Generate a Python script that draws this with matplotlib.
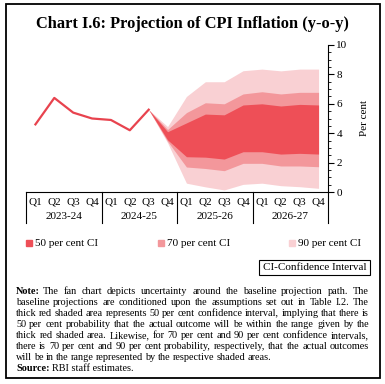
import numpy as np
import matplotlib.pyplot as plt
from matplotlib.patches import Rectangle

quarters = ['Q1', 'Q2', 'Q3', 'Q4'] * 4
years = ['2023-24', '2024-25', '2025-26', '2026-27']

# actual inflation, Q1 2023-24 .. Q3 2024-25
actual = [4.6, 6.4, 5.4, 5.0, 4.9, 4.2, 5.6]

# fan bands, Q3 2024-25 .. Q4 2026-27
lo90 = [5.6, 3.35, 0.6, 0.35, 0.14, 0.52, 0.6, 0.43, 0.36, 0.25]
lo70 = [5.6, 3.45, 1.7, 1.6, 1.45, 1.95, 1.95, 1.77, 1.77, 1.72]
lo50 = [5.6, 3.55, 2.4, 2.37, 2.24, 2.74, 2.74, 2.58, 2.63, 2.58]
hi50 = [5.6, 4.1, 4.7, 5.3, 5.25, 5.92, 6.0, 5.85, 5.96, 5.92]
hi70 = [5.6, 4.25, 5.4, 6.07, 6.0, 6.67, 6.82, 6.67, 6.78, 6.78]
hi90 = [5.6, 4.45, 6.5, 7.5, 7.5, 8.25, 8.36, 8.24, 8.36, 8.36]

note_lines = [
    "The fan chart depicts uncertainty around the baseline projection path. The",
    "baseline projections are conditioned upon the assumptions set out in Table I.2. The",
    "thick red shaded area represents 50 per cent confidence interval, implying that there is",
    "50 per cent probability that the actual outcome will be within the range given by the",
    "thick red shaded area. Likewise, for 70 per cent and 90 per cent confidence intervals,",
    "there is 70 per cent and 90 per cent probability, respectively, that the actual outcomes",
    "will be in the range represented by the respective shaded areas.",
]

c50 = '#ee4f57'
c70 = '#f3979b'
c90 = '#f9d0d3'
serif = ['Liberation Serif', 'DejaVu Serif']

W, H = 385, 384
fig = plt.figure(figsize=(W / 100, H / 100), dpi=100)
ax = fig.add_axes([26 / W, 1 - 192 / H, (328 - 26) / W, (192 - 45) / H])

xf = np.arange(6, 16)
ax.fill_between(xf, lo90, hi90, color=c90, lw=0)
ax.fill_between(xf, lo70, hi70, color=c70, lw=0)
ax.fill_between(xf, lo50, hi50, color=c50, lw=0)
ax.plot(np.arange(len(actual)), actual, color='#e8434e', lw=1.6)

ax.set_xlim(-0.5, 15.5)
ax.set_ylim(0, 10)
for s in ['left', 'top']:
    ax.spines[s].set_visible(False)
ax.spines['right'].set_linewidth(0.8)
ax.spines['bottom'].set_linewidth(0.8)
ax.yaxis.tick_right()
ax.set_yticks(np.arange(0, 11, 2))
ax.set_yticks(np.arange(0, 10.01, 0.5), minor=True)
ax.tick_params(axis='y', which='major', length=4, width=0.8, labelsize=8, pad=2)
ax.tick_params(axis='y', which='minor', length=2, width=0.6)
for lb in ax.get_yticklabels():
    lb.set_fontfamily(serif)
ax.set_xticks([])
ax.yaxis.set_label_position('right')
ax.set_ylabel('Per cent', fontsize=8, family=serif, labelpad=9)

# category axis
tr = ax.get_xaxis_transform()
for i, q in enumerate(quarters):
    ax.text(i, -0.065, q, transform=tr, ha='center', va='center', fontsize=8, family=serif)
for j, y in enumerate(years):
    ax.text(j * 4 + 1.5, -0.17, y, transform=tr, ha='center', va='center', fontsize=8, family=serif)
for b in [-0.5, 3.5, 7.5, 11.5, 15.5]:
    ax.plot([b, b], [0, -0.21], transform=tr, color='black', lw=0.8, clip_on=False)

fig.text(192 / W, 1 - 24 / H, 'Chart I.6: Projection of CPI Inflation (y-o-y)',
         ha='center', va='center', fontsize=11.8, fontweight='bold', family=serif)

# legend
labels = ['50 per cent CI', '70 per cent CI', '90 per cent CI']
cols = [c50, c70, c90]
xs = [26, 158, 289]
for x0, lab, c in zip(xs, labels, cols):
    fig.patches.append(Rectangle((x0 / W, 1 - 246 / H), 6 / W, 6 / H,
                                 transform=fig.transFigure, color=c))
    fig.text((x0 + 9) / W, 1 - 243 / H, lab, ha='left', va='center', fontsize=8, family=serif)

fig.text(314.5 / W, 1 - 267.5 / H, 'CI-Confidence Interval', ha='center', va='center',
         fontsize=8, family=serif,
         bbox=dict(boxstyle='square,pad=0.3', fc='white', ec='black', lw=0.8))

# justified note text
r = fig.canvas.get_renderer()
fs = 7.4
x_left, x_right = 16, 369
y0, dy = 291, 11.1


def put(x, y, s, bold=False):
    t = fig.text(x / W, 1 - y / H, s, ha='left', va='center', fontsize=fs,
                 family=serif, fontweight='bold' if bold else 'normal')
    return t, t.get_window_extent(renderer=r).width


for k, line in enumerate(note_lines):
    y = y0 + k * dy
    start = x_left
    if k == 0:
        _, w = put(x_left, y, 'Note:', bold=True)
        start = x_left + w + 3
    words = line.split()
    texts = [put(start, y, wd) for wd in words]
    total = sum(w for _, w in texts)
    if k == len(note_lines) - 1:
        gap = 2.2
    else:
        gap = (x_right - start - total) / (len(words) - 1)
    x = start
    for t, w in texts:
        t.set_x(x / W)
        x += w + gap

_, w = put(x_left, y0 + 7 * dy, 'Source:', bold=True)
put(x_left + w + 3, y0 + 7 * dy, 'RBI staff estimates.')

fig.patches.append(Rectangle((6 / W, 1 - 378 / H), 374 / W, 374 / H, transform=fig.transFigure,
                             fill=False, ec='black', lw=1.3))

fig.savefig('out.png', dpi=100)
